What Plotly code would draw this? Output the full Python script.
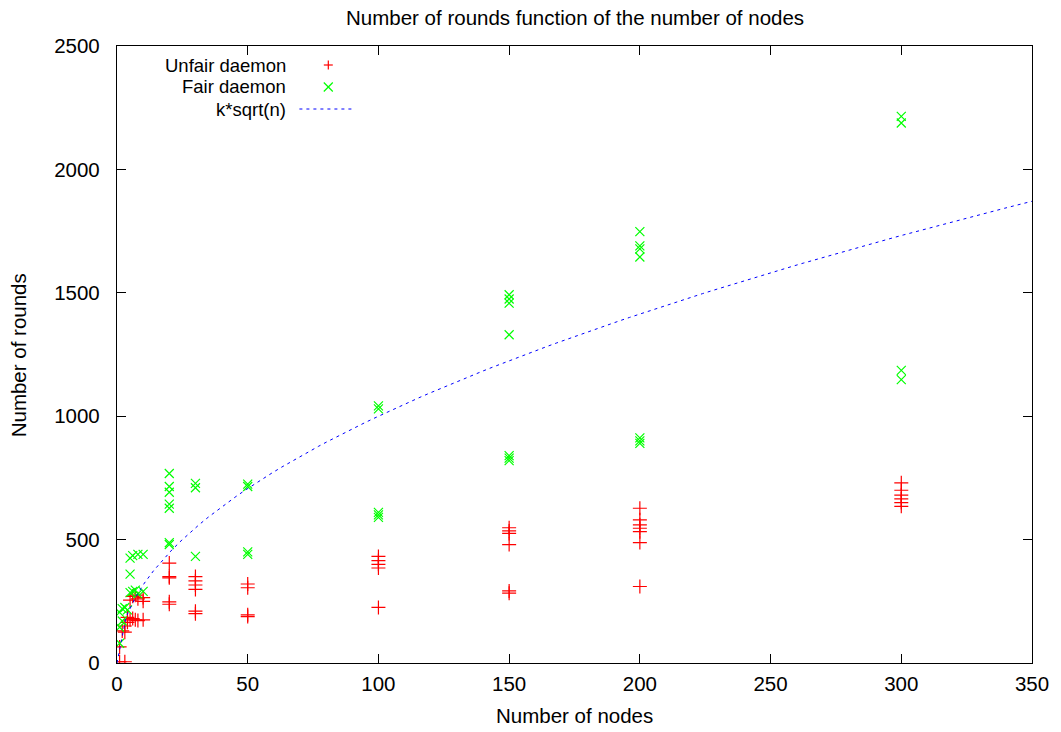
import numpy as np
import plotly.graph_objects as go

# ---------------- data ----------------
unfair_n = [1, 1, 2, 3, 3, 3, 4, 4, 5, 5, 6, 6, 7, 7, 8, 8, 10, 10, 10,
            20, 20, 20, 20, 20,
            30, 30, 30, 30, 30, 30,
            50, 50, 50, 50,
            100, 100, 100, 100, 100,
            150, 150, 150, 150, 150, 150,
            200, 200, 200, 200, 200, 200, 200,
            300, 300, 300, 300, 300, 300]
unfair_rounds = [5, 65, 130, 5, 150, 125, 185, 165, 175, 255, 180, 270, 175, 275, 172, 260, 175, 250, 265,
                 405, 350, 345, 248, 238,
                 350, 333, 316, 298, 210, 200,
                 320, 305, 195, 188,
                 432, 415, 400, 385, 225,
                 548, 535, 525, 480, 292, 283,
                 627, 580, 560, 546, 532, 488, 310,
                 730, 700, 680, 665, 650, 635]

fair_n = [1, 1, 1, 2, 2, 3, 4, 5, 5, 5, 6, 6, 7, 8, 8, 10, 10,
          20, 20, 20, 20, 20, 20, 20,
          30, 30, 30,
          50, 50, 50, 50,
          100, 100, 100, 100, 100,
          150, 150, 150, 150, 150, 150, 150,
          200, 200, 200, 200, 200, 200, 200,
          300, 300, 300, 300]
fair_rounds = [80, 145, 205, 220, 170, 225, 215, 285, 360, 425, 290, 435, 295, 280, 440, 290, 440,
               768, 715, 692, 644, 627, 488, 480,
               728, 710, 432,
               725, 715, 450, 440,
               1042, 1030, 610, 600, 590,
               1492, 1475, 1458, 1330, 840, 830, 820,
               1748, 1690, 1678, 1645, 912, 900, 890,
               2215, 2188, 1186, 1148]

K = 100  # k in k*sqrt(n)
curve_n = np.linspace(0, 350, 101)
curve_rounds = K * np.sqrt(curve_n)

x_ticks = [0, 50, 100, 150, 200, 250, 300, 350]
y_ticks = [0, 500, 1000, 1500, 2000, 2500]

title_text = "Number of rounds function of the number of nodes"
x_title = "Number of nodes"
y_title = "Number of rounds"
legend_names = ["Unfair daemon", "Fair daemon", "k*sqrt(n)"]

# ---------------- styling ----------------
RED = "#ff0000"
GREEN = "#00ff00"
BLUE = "#0000ff"
FONT = "Liberation Sans, Arial, sans-serif"
FS = 20.5
LEG_FS = 18.5

W, H = 1061, 732
L, R, T, B = 117, 1035, 46, 663
PW, PH = R - L, B - T


def px(x):
    return (x - L) / PW


def py(y):
    return (B - y) / PH


fig = go.Figure()
fig.add_trace(go.Scatter(
    x=unfair_n, y=unfair_rounds, mode="markers", name=legend_names[0],
    marker=dict(symbol="cross-thin", size=10, line=dict(color=RED, width=1.2), color=RED),
    showlegend=False))
fig.add_trace(go.Scatter(
    x=fair_n, y=fair_rounds, mode="markers", name=legend_names[1],
    marker=dict(symbol="x-thin", size=9, line=dict(color=GREEN, width=1.2), color=GREEN),
    showlegend=False))
fig.add_trace(go.Scatter(
    x=curve_n, y=curve_rounds, mode="lines", name=legend_names[2],
    line=dict(color=BLUE, width=1, dash="3px,4px"), showlegend=False))

axis_common = dict(
    showline=True, linecolor="black", linewidth=1.3, mirror="allticks",
    ticks="inside", ticklen=9, tickwidth=1, tickcolor="black",
    showgrid=False, zeroline=False,
    tickfont=dict(family=FONT, size=FS, color="black"),
)
fig.update_xaxes(range=[0, 350], tickvals=x_ticks, ticklabelstandoff=2, **axis_common)
fig.update_yaxes(range=[0, 2500], tickvals=y_ticks, ticklabelstandoff=12, **axis_common)

annotations = [
    dict(text=title_text, x=0.5, y=py(18), xref="paper", yref="paper",
         showarrow=False, xanchor="center", yanchor="middle",
         font=dict(family=FONT, size=FS, color="black")),
    dict(text=x_title, x=0.5, y=py(715), xref="paper", yref="paper",
         showarrow=False, xanchor="center", yanchor="middle",
         font=dict(family=FONT, size=FS, color="black")),
    dict(text=y_title, x=px(18), y=py(355), xref="paper", yref="paper",
         showarrow=False, xanchor="center", yanchor="middle", textangle=-90,
         font=dict(family=FONT, size=FS, color="black")),
]
legend_y = [65, 87, 109]
for name, yy in zip(legend_names, legend_y):
    annotations.append(dict(text=name, x=px(288), y=py(yy), xref="paper", yref="paper",
                            showarrow=False, xanchor="right", yanchor="middle",
                            borderpad=0,
                            font=dict(family=FONT, size=LEG_FS, color="black")))

shapes = []
# legend sample: plus
cx, cy, s = 329, legend_y[0], 4.5
shapes.append(dict(type="line", xref="paper", yref="paper", x0=px(cx - s), x1=px(cx + s),
                   y0=py(cy), y1=py(cy), line=dict(color=RED, width=1.2)))
shapes.append(dict(type="line", xref="paper", yref="paper", x0=px(cx), x1=px(cx),
                   y0=py(cy - s), y1=py(cy + s), line=dict(color=RED, width=1.2)))
# legend sample: x
cy = legend_y[1]
shapes.append(dict(type="line", xref="paper", yref="paper", x0=px(cx - s), x1=px(cx + s),
                   y0=py(cy - s), y1=py(cy + s), line=dict(color=GREEN, width=1.2)))
shapes.append(dict(type="line", xref="paper", yref="paper", x0=px(cx - s), x1=px(cx + s),
                   y0=py(cy + s), y1=py(cy - s), line=dict(color=GREEN, width=1.2)))
# legend sample: dotted line
cy = legend_y[2]
shapes.append(dict(type="line", xref="paper", yref="paper", x0=px(300), x1=px(356),
                   y0=py(cy), y1=py(cy), line=dict(color=BLUE, width=1, dash="3px,4px")))

fig.update_layout(
    width=W, height=H,
    margin=dict(l=L, r=W - R, t=T, b=H - B),
    paper_bgcolor="white", plot_bgcolor="white",
    annotations=annotations, shapes=shapes,
    showlegend=False,
)

fig.write_html("out.html")
